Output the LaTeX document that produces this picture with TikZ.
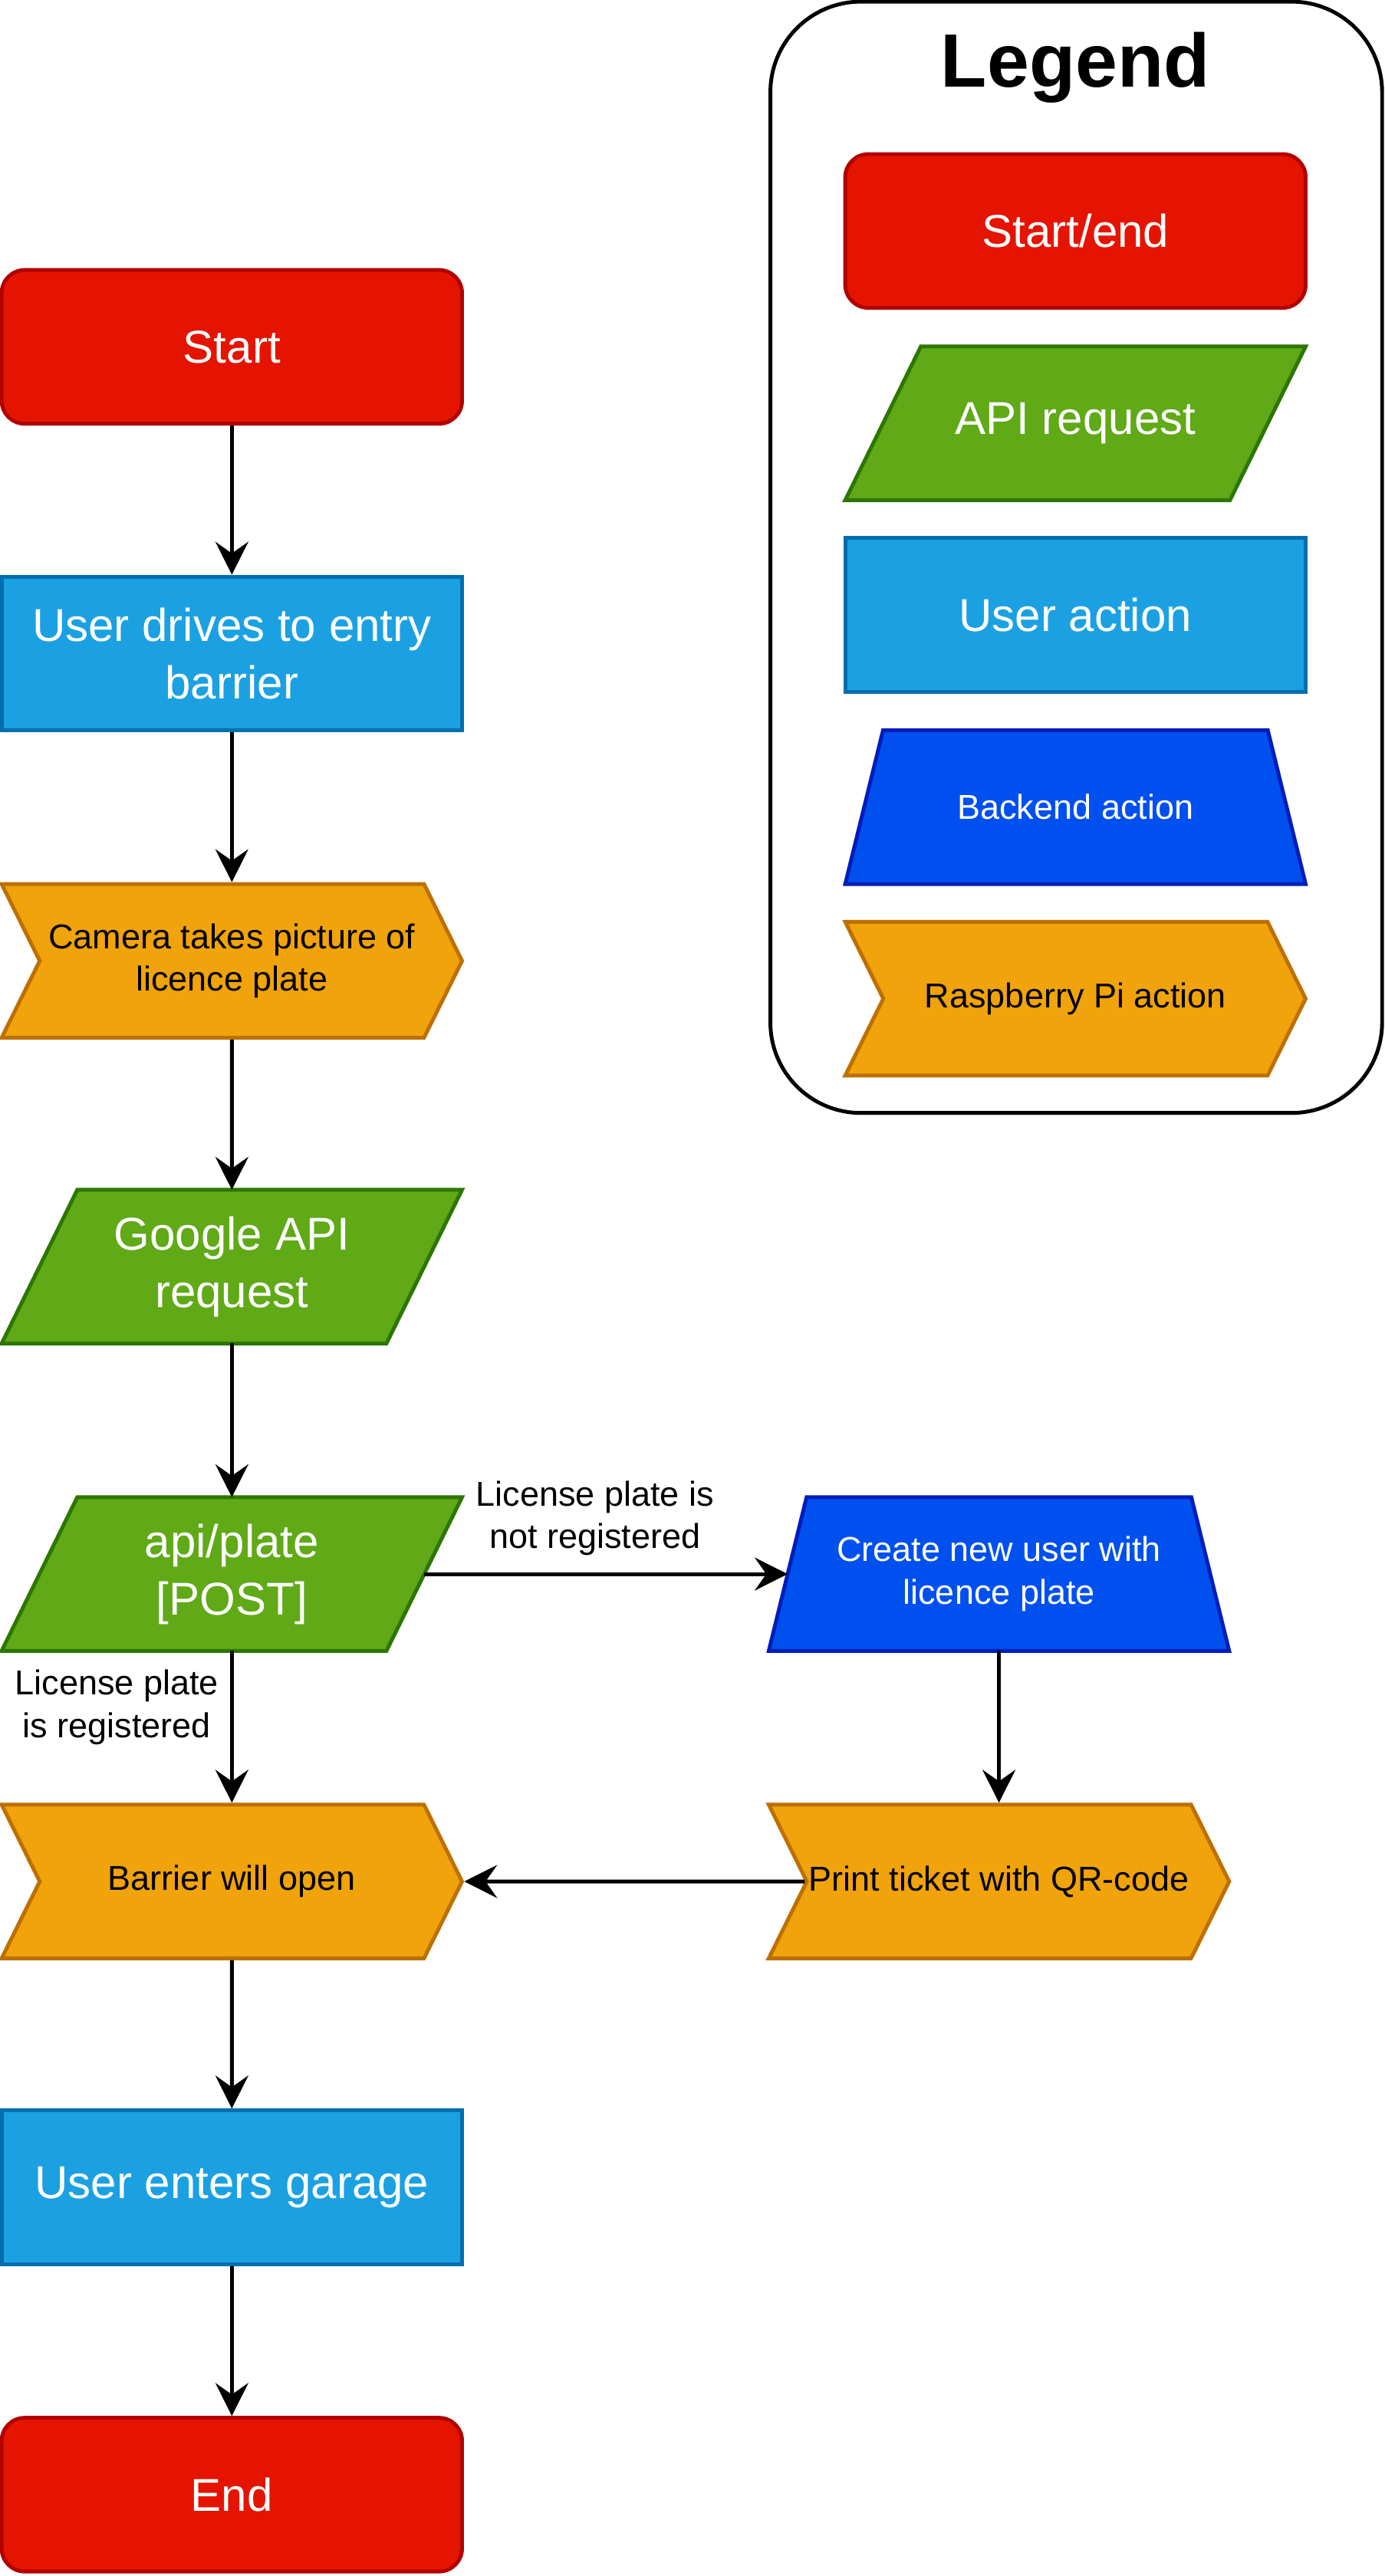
\documentclass[tikz,border=0pt]{standalone}
\usepackage{fontspec}
\setmainfont{Liberation Sans}
\usetikzlibrary{shapes.symbols,arrows.meta,backgrounds}
\definecolor{endfill}{HTML}{E51400}
\definecolor{endline}{HTML}{B20000}
\definecolor{apifill}{HTML}{60A917}
\definecolor{apiline}{HTML}{2D7600}
\definecolor{userfill}{HTML}{1BA1E2}
\definecolor{userline}{HTML}{006EAF}
\definecolor{backfill}{HTML}{0050EF}
\definecolor{backline}{HTML}{001DBC}
\definecolor{pifill}{HTML}{F0A30A}
\definecolor{piline}{HTML}{BD7000}
\newcommand{\boxfont}{\fontsize{28}{35}\selectfont}
\newcommand{\notefont}{\fontsize{21}{26}\selectfont}
\tikzset{
	every node/.style={align=center, inner sep=0pt},
	shapebox/.style={minimum width=280pt, minimum height=93.5pt, line width=2.3pt},
	startend/.style={shapebox, rectangle, rounded corners=14pt, fill=endfill, draw=endline, text=white, font=\boxfont},
	useract/.style={shapebox, rectangle, fill=userfill, draw=userline, text=white, font=\boxfont},
	apireq/.style={shapebox, rectangle, outer sep=0pt, text=white, font=\boxfont},
	apishape/.style={line width=2.3pt, fill=apifill, draw=apiline},
	backend/.style={shapebox, rectangle, outer sep=0pt, text=white, font=\notefont},
	backshape/.style={line width=2.3pt, fill=backfill, draw=backline},
	piact/.style={shapebox, signal, signal from=west, signal to=east, signal pointer angle=127.3, fill=pifill, draw=piline, text=black, font=\notefont},
	flow/.style={line width=2.3pt, -{Stealth[length=20pt,width=20pt,inset=7pt]}},
	note/.style={font=\notefont}
}
\begin{document}
\begin{tikzpicture}[x=1pt,y=-1pt]
				\useasboundingbox (0,0) rectangle (842,1567);
				% legend
				\node [draw, line width=2.3pt, rounded corners=55pt, minimum width=372pt, minimum height=676pt] (legend) at (654.5,339) {};
				\node [font=\fontsize{46}{50}\selectfont\bfseries] (legendtitle) at (654,41) {Legend};
				\node [startend] (keyend) at (654,140.5) {Start/end};
				\node [apireq] (keyapi) at (654,257.5) {API request};
				\node [useract] (keyuser) at (654,374) {User action};
				\node [backend] (keyback) at (654,491) {Backend action};
				\node [piact] (keypi) at (654,607.5) {Raspberry Pi action};
				% flow
				\node [startend] (start) at (141,211) {Start};
				\node [useract] (drive) at (141,397.5) {User drives to entry\\barrier};
				\node [piact] (camera) at (141,584.5) {Camera takes picture of\\licence plate};
				\node [apireq] (google) at (141,770.5) {Google API\\request};
				\node [apireq] (plate) at (141,957.5) {api/plate\\{[POST]}};
				\node [piact] (barrier) at (141,1144.5) {Barrier will open};
				\node [useract] (enter) at (141,1330.5) {User enters garage};
				\node [startend] (end) at (141,1517.5) {End};
				\node [backend] (newuser) at (607.5,957.5) {Create new user with\\licence plate};
				\node [piact] (ticket) at (607.5,1144.5) {Print ticket with QR-code};
				% slanted shapes behind the text
				\begin{scope}[on background layer]
				\draw [apishape] ([xshift=46pt]keyapi.north west) -- (keyapi.north east) -- ([xshift=-46pt]keyapi.south east) -- (keyapi.south west) -- cycle;
				\draw [apishape] ([xshift=46pt]google.north west) -- (google.north east) -- ([xshift=-46pt]google.south east) -- (google.south west) -- cycle;
				\draw [apishape] ([xshift=46pt]plate.north west) -- (plate.north east) -- ([xshift=-46pt]plate.south east) -- (plate.south west) -- cycle;
				\draw [backshape] ([xshift=23pt]keyback.north west) -- ([xshift=-23pt]keyback.north east) -- (keyback.south east) -- (keyback.south west) -- cycle;
				\draw [backshape] ([xshift=23pt]newuser.north west) -- ([xshift=-23pt]newuser.north east) -- (newuser.south east) -- (newuser.south west) -- cycle;
				\end{scope}
				\draw [flow] (start) -- (drive);
				\draw [flow] (drive) -- (camera);
				\draw [flow] (camera) -- (google);
				\draw [flow] (google) -- (plate);
				\draw [flow] ([xshift=-23pt]plate.east) -- node [note, above=10pt, pos=0.47] (nolabel) {License plate is\\not registered} ([xshift=11.5pt]newuser.west);
				\draw [flow] (plate) -- node [note, left=7pt, pos=0.37] (yeslabel) {License plate\\is registered} (barrier);
				\draw [flow] (newuser) -- (ticket);
				\draw [flow] (ticket) -- (barrier);
				\draw [flow] (barrier) -- (enter);
				\draw [flow] (enter) -- (end);
			\end{tikzpicture}
\end{document}
